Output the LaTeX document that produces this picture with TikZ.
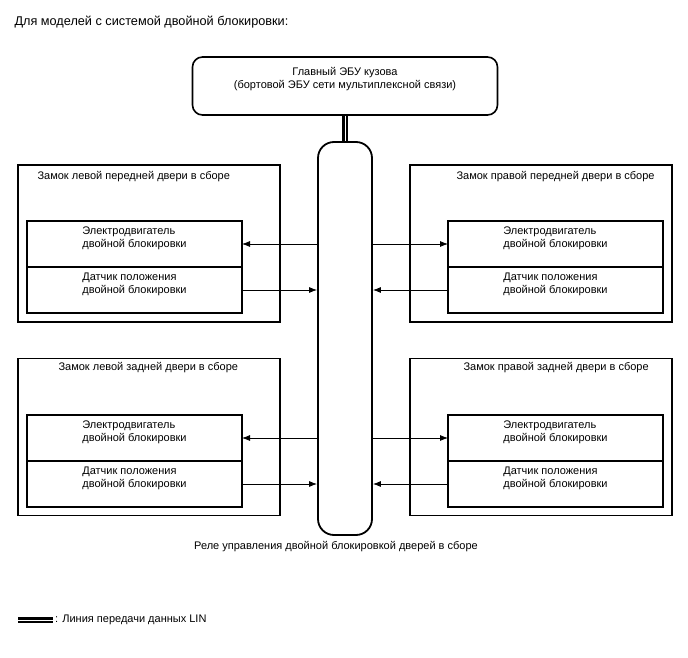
\documentclass[tikz,border=0pt]{standalone}
\usepackage{fontspec}
\setmainfont{Liberation Sans}
\usetikzlibrary{arrows.meta, positioning}

\begin{document}
\begin{tikzpicture}[
        x=1pt, y=-1pt,
        font=\fontsize{11}{13}\selectfont,
        ecu/.style={
            draw,
            rounded corners=10pt,
            line width=1.6pt,
            minimum width=305pt,
            minimum height=58pt
        },
        relay/.style={
            draw,
            rounded corners=16pt,
            line width=1.8pt,
            minimum width=54pt,
            minimum height=393pt
        },
        lock/.style={draw, line width=1.5pt, minimum width=262pt, minimum height=157pt},
        part/.style={draw, line width=1.5pt, minimum width=215pt, minimum height=46pt, outer sep=0pt},
        parttext/.style={align=left, inner sep=2pt},
        signal/.style={-{Latex[length=8pt, width=6pt]}, line width=0.8pt},
        lin/.style={line width=2.7pt, double=white, double distance=1pt}
    ]
        \useasboundingbox (0,0) rectangle (688,658);

        \node[anchor=west, font=\fontsize{12.7}{15}\selectfont] (caption) at (11,22)
            {Для моделей с системой двойной блокировки:};

        % body ECU and relay
        \node[ecu] (ecu) at (345,86) {};
        \node[align=center, below=8pt of ecu.north] (ecutext)
            {Главный ЭБУ кузова\\(бортовой ЭБУ сети мультиплексной связи)};

        \node[relay] (relay) at (345,338.5) {};
        \node (relaytext) at (336,547) {Реле управления двойной блокировкой дверей в сборе};

        \draw[lin] (ecu.south) -- (relay.north);

        % door lock assemblies
        \foreach \side/\lx/\ly/\px/\py/\tx/\ty/\title in {
                LF/149/243.5/134.5/244/34/177/Замок левой передней двери в сборе,
                RF/541/243.5/555.5/244/453/177/Замок правой передней двери в сборе,
                LR/149/437/134.5/438/55/368/Замок левой задней двери в сборе,
                RR/541/437/555.5/438/460/368/Замок правой задней двери в сборе} {
            \node[lock] (lock\side) at (\lx,\ly) {};
            \node[anchor=west] (title\side) at (\tx,\ty) {\title};
            \node[part] (motor\side) at (\px,\py) {};
            \node[part, below=0pt of motor\side] (sensor\side) {};
            \node[parttext, below=4pt of motor\side.north] (motor\side text)
                {Электродвигатель\\двойной блокировки};
            \node[parttext, below=4pt of sensor\side.north] (sensor\side text)
                {Датчик положения\\двойной блокировки};
        }

        \foreach \side/\near/\far in {LF/east/west, LR/east/west, RF/west/east, RR/west/east} {
            \draw[signal] (relay.\far |- motor\side.\near) -- (motor\side.\near);
            \draw[signal] (sensor\side.\near) -- (relay.\far |- sensor\side.\near);
        }

        % legend
        \coordinate (linstart) at (18,620);
        \coordinate (linend) at (53,620);
        \draw[lin] (linstart) -- (linend);
        \node[anchor=west, inner sep=2pt] (lintext) at (linend) {: Линия передачи данных LIN};
    \end{tikzpicture}
\end{document}
